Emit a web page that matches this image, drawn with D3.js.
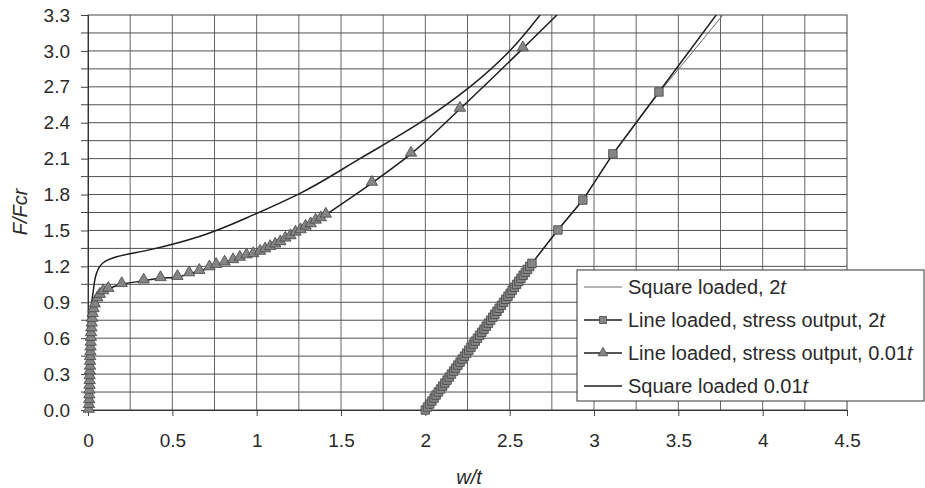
<!DOCTYPE html>
<html lang="en">
<head>
<meta charset="UTF-8" />
<title>F/Fcr vs w/t</title>
<script src="https://d3js.org/d3.v7.min.js"></script>
<style>
  body { margin: 0; background: #fff; }
  text { font-family: "Liberation Sans", Arial, sans-serif; fill: #2a2a2a; }
</style>
</head>
<body>
<div id="chart"></div>
<script>
// tick labels and grid steps
var xTicks = [0, 0.5, 1, 1.5, 2, 2.5, 3, 3.5, 4, 4.5];
var yTicks = [0, 0.3, 0.6, 0.9, 1.2, 1.5, 1.8, 2.1, 2.4, 2.7, 3.0, 3.3];
var xGrid = [0.25, 0.5, 0.75, 1, 1.25, 1.5, 1.75, 2, 2.25, 2.5, 2.75, 3, 3.25, 3.5, 3.75, 4, 4.25];
var yGrid = [0.15, 0.3, 0.45, 0.6, 0.75, 0.9, 1.05, 1.2, 1.35, 1.5, 1.65, 1.8, 1.95, 2.1, 2.25, 2.4, 2.55, 2.7, 2.85, 3.0, 3.15];
var yMinor = [0.15, 0.45, 0.75, 1.05, 1.35, 1.65, 1.95, 2.25, 2.55, 2.85, 3.15];

// Square loaded, 2t (thin line)
var sq2tX = [2.0, 2.3, 2.63, 2.78, 2.93, 3.11, 3.39, 3.52, 3.764];
var sq2tY = [0, 0.58, 1.22, 1.5, 1.75, 2.13, 2.66, 2.88, 3.3];

// Line loaded, stress output, 2t (squares)
var ln2tX = [2.000, 2.013, 2.026, 2.039, 2.052, 2.064, 2.077, 2.090, 2.103, 2.116,
             2.129, 2.142, 2.155, 2.168, 2.180, 2.193, 2.206, 2.219, 2.232, 2.245,
             2.258, 2.271, 2.284, 2.296, 2.309, 2.322, 2.335, 2.348, 2.361, 2.374,
             2.387, 2.400, 2.412, 2.425, 2.438, 2.451, 2.464, 2.477, 2.490, 2.503,
             2.515, 2.528, 2.541, 2.554, 2.567, 2.580, 2.593, 2.606, 2.619, 2.632,
             2.786, 2.934, 3.112, 3.385, 3.83];
var ln2tY = [0, 0.025, 0.05, 0.075, 0.1, 0.125, 0.15, 0.175, 0.2, 0.225,
             0.25, 0.275, 0.3, 0.325, 0.35, 0.375, 0.4, 0.425, 0.45, 0.475,
             0.5, 0.525, 0.55, 0.575, 0.6, 0.625, 0.65, 0.675, 0.7, 0.725,
             0.75, 0.775, 0.8, 0.825, 0.85, 0.875, 0.9, 0.925, 0.95, 0.975,
             1.0, 1.025, 1.05, 1.075, 1.1, 1.125, 1.15, 1.175, 1.2, 1.225,
             1.504, 1.754, 2.14, 2.657, 3.5];

// Line loaded, stress output, 0.01t (triangles)
var ln01X = [0.005, 0.006, 0.007, 0.008, 0.008, 0.009, 0.010, 0.010, 0.011, 0.012, 0.012,
             0.013, 0.014, 0.015, 0.016, 0.017, 0.018, 0.020, 0.022, 0.025, 0.028, 0.033,
             0.040, 0.055, 0.070, 0.090, 0.12, 0.20, 0.33, 0.43, 0.53, 0.60, 0.66, 0.72,
             0.76, 0.81, 0.86, 0.90, 0.94, 0.98, 1.02, 1.05, 1.08, 1.11, 1.14, 1.17, 1.20,
             1.23, 1.26, 1.29, 1.32, 1.35, 1.38, 1.41, 1.683, 1.915, 2.205, 2.578, 2.91];
var ln01Y = [0, 0.04, 0.08, 0.12, 0.16, 0.2, 0.24, 0.28, 0.32, 0.36, 0.4,
             0.44, 0.48, 0.52, 0.56, 0.6, 0.64, 0.68, 0.72, 0.76, 0.8, 0.84,
             0.88, 0.93, 0.96, 0.99, 1.01, 1.05, 1.08, 1.10, 1.11, 1.14, 1.16, 1.19,
             1.21, 1.23, 1.25, 1.27, 1.29, 1.30, 1.32, 1.34, 1.36, 1.38, 1.40, 1.43, 1.45,
             1.48, 1.50, 1.53, 1.55, 1.58, 1.60, 1.63, 1.896, 2.14, 2.515, 3.02, 3.48];

// Square loaded 0.01t (solid line)
var sq01X = [0, 0.01, 0.015, 0.02, 0.03, 0.05, 0.09, 0.17, 0.37, 0.66, 0.76, 0.98,
             1.257, 1.612, 1.968, 2.264, 2.50, 2.68];
var sq01Y = [0, 0.3, 0.6, 0.85, 0.98, 1.14, 1.23, 1.28, 1.34, 1.45, 1.50, 1.63,
             1.81, 2.1, 2.4, 2.7, 3.0, 3.3];

var legendNames = [
  ["Square loaded, 2", "t"],
  ["Line loaded, stress output, 2", "t"],
  ["Line loaded, stress output, 0.01", "t"],
  ["Square loaded 0.01", "t"]
];

var width = 925, height = 488;
var margin = {left: 88, right: 78, top: 15, bottom: 78};
var iw = width - margin.left - margin.right;
var ih = height - margin.top - margin.bottom;

var svg = d3.select("#chart").append("svg")
    .attr("width", width).attr("height", height);

var g = svg.append("g").attr("transform", "translate(" + margin.left + "," + margin.top + ")");

var x = d3.scaleLinear().domain([0, 4.5]).range([0, iw]);
var y = d3.scaleLinear().domain([0, 3.3]).range([ih, 0]);

// grid
g.selectAll(".vgrid").data(xGrid).enter().append("line")
  .attr("x1", d => x(d)).attr("x2", d => x(d))
  .attr("y1", 0).attr("y2", ih)
  .attr("stroke", "#666").attr("stroke-width", 1);
g.selectAll(".hgrid").data(yGrid).enter().append("line")
  .attr("x1", 0).attr("x2", iw)
  .attr("y1", d => y(d)).attr("y2", d => y(d))
  .attr("stroke", "#505050").attr("stroke-width", 1);

// frame
g.append("rect").attr("width", iw).attr("height", ih)
  .attr("fill", "none").attr("stroke", "#444").attr("stroke-width", 1);

// axes
var yAxis = g.append("g")
  .call(d3.axisLeft(y).tickValues(yTicks).tickFormat(d3.format(".1f")).tickSize(7).tickPadding(11));
g.append("g").selectAll("line").data(yMinor).enter().append("line")
  .attr("x1", -7).attr("x2", 0).attr("y1", d => y(d)).attr("y2", d => y(d))
  .attr("stroke", "#444");
var xAxis = g.append("g").attr("transform", "translate(0," + ih + ")")
  .call(d3.axisBottom(x).tickValues(xTicks).tickFormat(d => String(d)).tickSize(6).tickPadding(18));
[yAxis, xAxis].forEach(function(a) {
  a.select(".domain").attr("stroke", "#333");
  a.selectAll(".tick line").attr("stroke", "#444");
  a.selectAll("text").style("font-size", "19px").attr("fill", "#2a2a2a");
});

// titles
svg.append("text")
  .attr("transform", "translate(27,212) rotate(-90)")
  .attr("text-anchor", "middle")
  .style("font-size", "20px").style("font-style", "italic")
  .text("F/Fcr");
svg.append("text")
  .attr("x", 469).attr("y", 484)
  .attr("text-anchor", "middle")
  .style("font-size", "20px").style("font-style", "italic")
  .text("w/t");

// clip
svg.append("defs").append("clipPath").attr("id", "plotclip")
  .append("rect").attr("x", -6).attr("y", 0).attr("width", iw + 12).attr("height", ih + 8);

var plot = g.append("g").attr("clip-path", "url(#plotclip)");

function pts(xs, ys) { return xs.map((v, i) => [v, ys[i]]); }

var smooth = d3.line().x(d => x(d[0])).y(d => y(d[1])).curve(d3.curveMonotoneY);
var straight = d3.line().x(d => x(d[0])).y(d => y(d[1]));

plot.append("path").datum(pts(sq2tX, sq2tY)).attr("d", straight)
  .attr("fill", "none").attr("stroke", "#6a6a6a").attr("stroke-width", 1);

plot.append("path").datum(pts(sq01X, sq01Y)).attr("d", smooth)
  .attr("fill", "none").attr("stroke", "#1e1e1e").attr("stroke-width", 1.5);

var tri = pts(ln01X, ln01Y);
plot.append("path").datum(tri).attr("d", smooth)
  .attr("fill", "none").attr("stroke", "#1e1e1e").attr("stroke-width", 1.5);
plot.selectAll(".tri").data(tri).enter().append("path")
  .attr("d", d3.symbol(d3.symbolTriangle, 56))
  .attr("transform", d => "translate(" + x(d[0]) + "," + (y(d[1]) - 1) + ")")
  .attr("fill", "#858585").attr("stroke", "#454545").attr("stroke-width", 0.8);

var sq = pts(ln2tX, ln2tY);
plot.append("path").datum(sq).attr("d", straight)
  .attr("fill", "none").attr("stroke", "#1e1e1e").attr("stroke-width", 1.5);
plot.selectAll(".sq").data(sq).enter().append("path")
  .attr("d", d3.symbol(d3.symbolSquare, 72))
  .attr("transform", d => "translate(" + x(d[0]) + "," + y(d[1]) + ")")
  .attr("fill", "#858585").attr("stroke", "#454545").attr("stroke-width", 0.8);

// legend
var lg = svg.append("g").attr("transform", "translate(577,270)");
lg.append("rect").attr("width", 347).attr("height", 131)
  .attr("fill", "#fff").attr("stroke", "#333").attr("stroke-width", 1);

var legendStyles = [
  {stroke: "#6a6a6a", w: 1, sym: null},
  {stroke: "#1e1e1e", w: 1.5, sym: d3.symbolSquare},
  {stroke: "#1e1e1e", w: 1.5, sym: d3.symbolTriangle},
  {stroke: "#1e1e1e", w: 1.5, sym: null}
];

legendNames.forEach(function(name, i) {
  var cy = 17 + i * 33;
  var st = legendStyles[i];
  lg.append("line").attr("x1", 7).attr("x2", 45).attr("y1", cy).attr("y2", cy)
    .attr("stroke", st.stroke).attr("stroke-width", st.w);
  if (st.sym) {
    lg.append("path").attr("d", d3.symbol(st.sym, st.sym === d3.symbolSquare ? 50 : 40))
      .attr("transform", "translate(26," + cy + ")")
      .attr("fill", "#858585").attr("stroke", "#454545").attr("stroke-width", 0.8);
  }
  var t = lg.append("text").attr("x", 51).attr("y", cy + 7).style("font-size", "20px");
  t.append("tspan").text(name[0]);
  t.append("tspan").style("font-style", "italic").text(name[1]);
});
</script>
</body>
</html>
